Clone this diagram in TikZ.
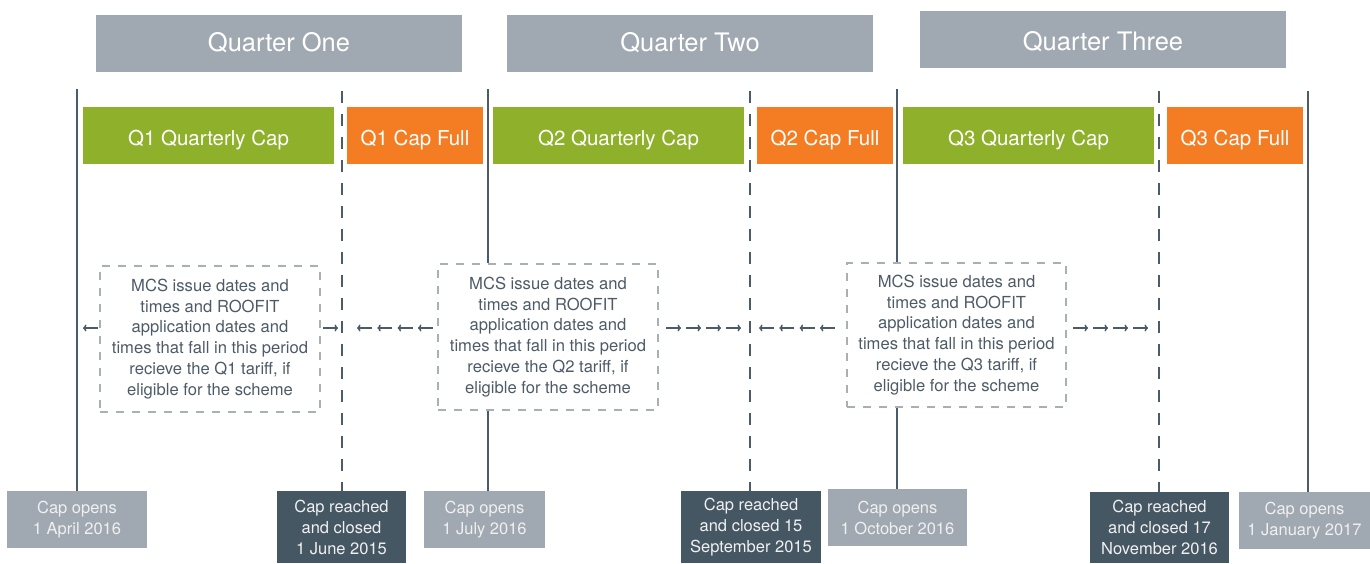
\documentclass[tikz,border=0pt]{standalone}
\usepackage{fontspec}
\setmainfont{TeX Gyre Heros}
\usetikzlibrary{arrows.meta}
\definecolor{hdrgrey}{HTML}{A0A9B1}
\definecolor{capgreen}{HTML}{8FB02B}
\definecolor{caporange}{HTML}{F47D23}
\definecolor{darkslate}{HTML}{465764}
\definecolor{linecol}{HTML}{4B5B67}
\definecolor{dashgrey}{HTML}{A8B0B7}
\definecolor{textgrey}{HTML}{4D5B67}
\begin{document}
\begin{tikzpicture}[x=1pt,y=-1pt,
  box/.style={inner sep=0pt, align=center, text=white},
  hdr/.style={box, fill=hdrgrey, minimum width=366pt, minimum height=57pt, text height=15pt, text depth=0pt, font=\fontsize{25.5}{30}\selectfont},
  capbar/.style={box, fill=capgreen, minimum width=251pt, minimum height=57pt, text height=20pt, text depth=0pt, font=\fontsize{20.5}{24}\selectfont},
  fullbar/.style={box, fill=caporange, minimum width=136pt, minimum height=57pt, text height=20pt, text depth=0pt, font=\fontsize{20.5}{24}\selectfont},
  infobox/.style={draw=dashgrey, line width=2.2pt, dash pattern=on 8pt off 8pt, text=textgrey, align=center, minimum width=220pt, minimum height=146pt, inner sep=0pt, font=\fontsize{16.6}{20.8}\selectfont},
  openbox/.style={box, fill=hdrgrey, minimum height=57pt, text=white!94!black, font=\fontsize{16.5}{21}\selectfont},
  closebox/.style={box, fill=darkslate, minimum height=72pt, text=white!94!black, font=\fontsize{16.5}{21}\selectfont},
  solidline/.style={draw=linecol, line width=2.7pt},
  dashline/.style={draw=linecol, line width=2.7pt, dash pattern=on 12pt off 11pt},
  sarrow/.style={draw=linecol, line width=1.5pt, -{To[length=3.5pt,width=7pt]}}
]
\useasboundingbox (0,0) rectangle (1370,563);

% headers
\node[hdr] (h1) at (279,43.5) {Quarter One};
\node[hdr] (h2) at (690,43.5) {Quarter Two};
\node[hdr, text height=21pt] (h3) at (1103,39.5) {Quarter Three};

% cap bars
\node[capbar] (c1) at (208.5,135.5) {Q1 Quarterly Cap};
\node[fullbar] (f1) at (415,135.5) {Q1 Cap Full};
\node[capbar] (c2) at (618.5,135.5) {Q2 Quarterly Cap};
\node[fullbar] (f2) at (825,135.5) {Q2 Cap Full};
\node[capbar] (c3) at (1028.5,135.5) {Q3 Quarterly Cap};
\node[fullbar] (f3) at (1235,135.5) {Q3 Cap Full};

% info boxes
\node[infobox] (i1) at (210,339) {MCS issue dates and\\times and ROOFIT\\application dates and\\times that fall in this period\\recieve the Q1 tariff, if\\eligible for the scheme};
\node[infobox] (i2) at (548,337) {MCS issue dates and\\times and ROOFIT\\application dates and\\times that fall in this period\\recieve the Q2 tariff, if\\eligible for the scheme};
\node[infobox, minimum width=219pt, minimum height=144pt] (i3) at (956.5,335) {MCS issue dates and\\times and ROOFIT\\application dates and\\times that fall in this period\\recieve the Q3 tariff, if\\eligible for the scheme};

% bottom boxes
\node[openbox, minimum width=140pt] (o1) at (77,519.5) {Cap opens\\1 April 2016};
\node[closebox, minimum width=129pt] (d1) at (341.5,527) {Cap reached\\and closed\\1 June 2015};
\node[openbox, minimum width=121pt] (o2) at (484.5,519.5) {Cap opens\\1 July 2016};
\node[closebox, minimum width=140pt] (d2) at (751,527) {Cap reached\\and closed 15\\September 2015};
\node[openbox, minimum width=139pt] (o3) at (897.5,517.5) {Cap opens\\1 October 2016};
\node[closebox, minimum width=139pt, minimum height=71pt] (d3) at (1159.5,527.5) {Cap reached\\and closed 17\\November 2016};
\node[openbox, minimum width=131pt] (o4) at (1304.5,520.5) {Cap opens\\1 January 2017};

% vertical lines
\coordinate (t1) at (77,89);
\coordinate (t2) at (342,91);
\coordinate (t3) at (488,89);
\coordinate (t4) at (750,91);
\coordinate (t5) at (897,89);
\coordinate (t6) at (1159,91);
\coordinate (t7) at (1308,91);
\draw[solidline] (t1) -- (t1 |- o1.north);
\draw[dashline] (t2) -- (t2 |- d1.north);
\draw[solidline] (t3) -- (t3 |- i2.north);
\draw[solidline] (i2.south -| t3) -- (t3 |- o2.north);
\draw[dashline] (t4) -- (t4 |- d2.north);
\draw[solidline] (t5) -- (t5 |- i3.north);
\draw[solidline] (i3.south -| t5) -- (t5 |- o3.north);
\draw[dashline] (t6) -- (t6 |- d3.north);
\draw[solidline] (t7) -- (t7 |- o4.north);

% small arrows
\coordinate (a1) at (98,328);
\coordinate (a2) at (323,328);
\coordinate (a3) at (372,328);
\coordinate (a4) at (666,328);
\coordinate (a5) at (774,328);
\coordinate (a6) at (1073,328);
\draw[sarrow] (a1) -- ++(-15,0);
\draw[sarrow] (a2) -- ++(15,0);
\foreach \i in {0,1,2,3} {
  \draw[sarrow] ([xshift=\i*20.3pt]a3) -- ++(-15,0);
  \draw[sarrow] ([xshift=\i*20pt]a4) -- ++(15,0);
  \draw[sarrow] ([xshift=\i*20.3pt]a5) -- ++(-15,0);
  \draw[sarrow] ([xshift=\i*20pt]a6) -- ++(15,0);
}
\end{tikzpicture}
\end{document}
